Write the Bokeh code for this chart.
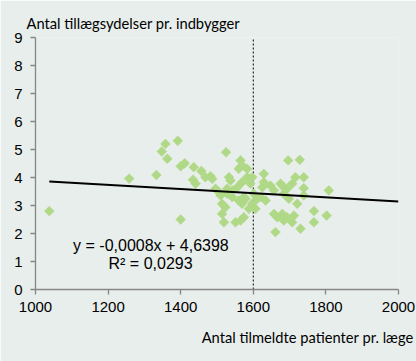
import numpy as np
from bokeh.plotting import figure
from bokeh.models import Range1d, Label, FixedTicker, ColumnDataSource, Title
from bokeh.embed import file_html
from bokeh.resources import INLINE

# ---- data ----
patients = [1038, 1258, 1333, 1348, 1358, 1363, 1392, 1400, 1400, 1411,
            1436, 1434, 1441, 1457, 1468, 1482, 1487, 1525, 1533, 1537,
            1565, 1569, 1560, 1583, 1583, 1592, 1556, 1496, 1505, 1528,
            1542, 1696, 1728, 1629, 1597, 1716, 1739, 1707, 1739, 1629,
            1625, 1647, 1657, 1675, 1684, 1693, 1510, 1528, 1542, 1514,
            1523, 1560, 1569, 1579, 1514, 1519, 1551, 1565, 1574, 1588,
            1601, 1611, 1597, 1606, 1684, 1698, 1721, 1739, 1657, 1666,
            1680, 1684, 1693, 1712, 1707, 1661, 1730, 1808, 1767, 1767,
            1802, 1569, 1574, 1620, 1634]
services = [2.80, 3.96, 4.09, 4.93, 5.20, 4.67, 5.31, 2.50, 4.40, 4.51,
            4.37, 3.92, 3.78, 4.23, 4.01, 4.05, 3.95, 4.90, 4.01, 3.89,
            4.61, 4.43, 4.31, 4.31, 4.01, 3.78, 3.65, 3.60, 3.48, 3.60,
            3.54, 4.61, 4.63, 4.13, 4.01, 4.01, 4.01, 3.78, 3.62, 3.83,
            3.65, 3.71, 3.54, 3.78, 3.65, 3.60, 3.36, 3.42, 3.30, 3.06,
            2.94, 3.18, 3.06, 3.24, 2.70, 2.40, 2.40, 2.46, 2.58, 2.88,
            3.42, 3.24, 3.06, 2.88, 3.42, 3.24, 3.06, 3.36, 2.70, 2.58,
            2.70, 2.46, 2.58, 2.64, 2.40, 2.05, 2.17, 3.54, 2.80, 2.40,
            2.64, 3.83, 3.30, 3.30, 3.18]

trend_slope = -0.00075
trend_intercept = 4.6398
reference_x = 1600

x_ticks = [1000, 1200, 1400, 1600, 1800, 2000]
y_ticks = [0, 1, 2, 3, 4, 5, 6, 7, 8, 9]

y_title = "Antal tillægsydelser pr. indbygger"
x_title = "Antal tilmeldte patienter pr. læge"
eq_line1 = "y = -0,0008x + 4,6398"
eq_line2 = "R² = 0,0293"

BG = "#E8EEEC"
AXIS = "#868686"
GREEN = "#B0D987"

p = figure(width=416, height=361, output_backend="svg", toolbar_location=None,
           x_range=Range1d(1000, 2000), y_range=Range1d(0, 9),
           min_border_left=35, min_border_right=18,
           min_border_top=37, min_border_bottom=72)
p.background_fill_color = BG
p.border_fill_color = BG
p.outline_line_color = None
p.xgrid.visible = False
p.ygrid.visible = False

for ax in (p.xaxis, p.yaxis):
    ax.axis_line_color = AXIS
    ax.axis_line_width = 1.3
    ax.major_tick_line_color = AXIS
    ax.major_tick_line_width = 1.3
    ax.major_tick_out = 5
    ax.major_tick_in = 0
    ax.minor_tick_line_color = None
    ax.major_label_text_font = "Liberation Sans"
    ax.major_label_text_font_size = "15px"
    ax.major_label_text_color = "black"
p.xaxis.ticker = FixedTicker(ticks=x_ticks)
p.yaxis.ticker = FixedTicker(ticks=y_ticks)
p.xaxis.major_label_standoff = 7
p.yaxis.major_label_standoff = 8

# y-axis title at the top-left
p.title.text = y_title
p.title.align = "left"
p.title.offset = -9
p.title.standoff = 12
p.title.text_font = "Lato"
p.title.text_font_size = "14.7px"
p.title.text_font_style = "normal"
p.title.text_color = "black"

# x-axis title at the bottom-right
p.add_layout(Title(text=x_title, align="right", offset=-15, standoff=22,
                   text_font="Lato", text_font_size="14.7px",
                   text_font_style="normal", text_color="black"), "below")

# reference dashed line
p.line([reference_x, reference_x], [0, 9], line_color="black",
       line_dash="2 2", line_width=1)

# scatter
src = ColumnDataSource(dict(x=patients, y=services))
p.scatter("x", "y", source=src, marker="square", size=7, angle=np.pi / 4,
          fill_color=GREEN, line_color=GREEN, line_width=0.5)

# trend line
tx = [min(patients), 2000]
ty = [trend_intercept + trend_slope * v for v in tx]
p.line(tx, ty, line_color="black", line_width=2)

# equation text
p.add_layout(Label(x=1318, y=1.57, text=eq_line1, text_align="center",
                   text_baseline="middle", text_font="Liberation Sans",
                   text_font_size="16px", text_color="black"))
p.add_layout(Label(x=1317, y=0.93, text=eq_line2, text_align="center",
                   text_baseline="middle", text_font="Liberation Sans",
                   text_font_size="16px", text_color="black"))

open("out.html", "w").write(file_html(p, INLINE))
